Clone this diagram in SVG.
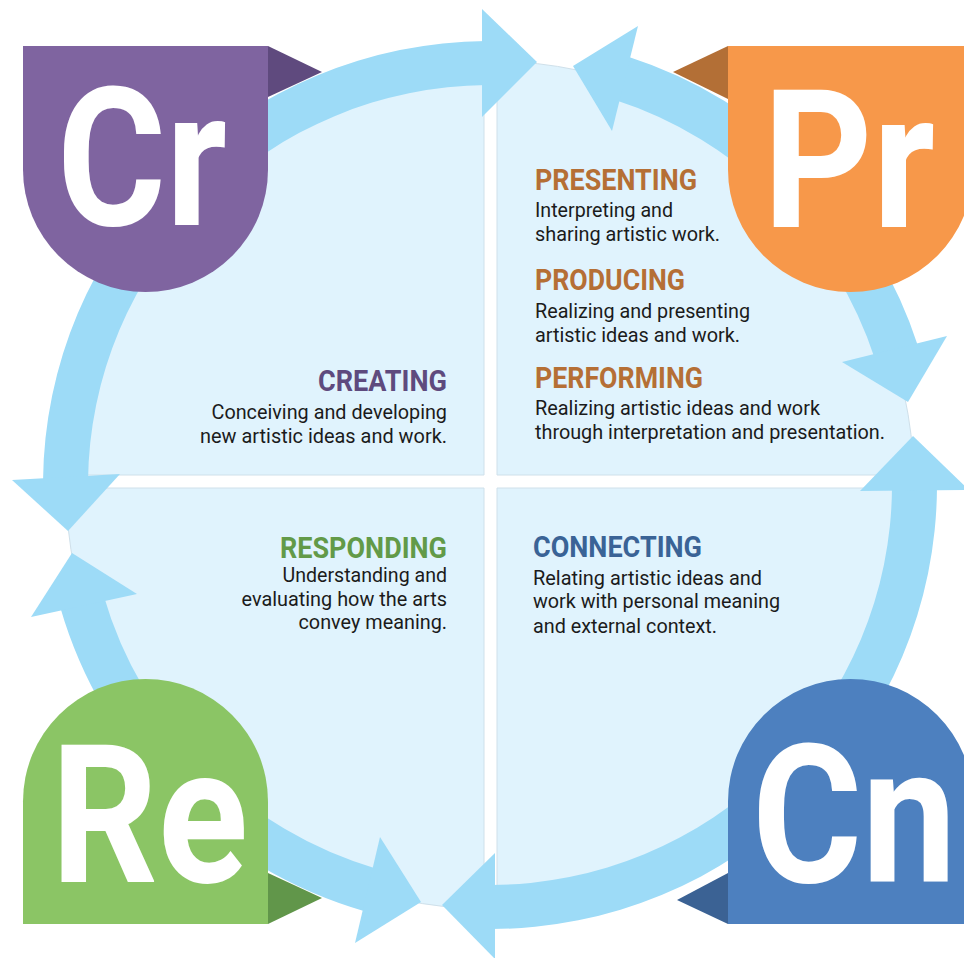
<svg xmlns="http://www.w3.org/2000/svg" width="964" height="958" viewBox="0 0 964 958">
<style>
.quad{fill:#e0f3fd;stroke:#cfe0ea;stroke-width:1}
.ring{fill:#9ddbf7}
.big{font-family:Roboto,"Liberation Sans",sans-serif;font-weight:700;font-size:193px;fill:#ffffff}
.h{font-family:Roboto,"Liberation Sans",sans-serif;font-weight:700;font-size:29.5px}
.b{font-family:Roboto,"Liberation Sans",sans-serif;font-weight:400;font-size:21px;fill:#1b1b1b}
</style>
<rect width="964" height="958" fill="#ffffff"/>
<g id="quadrants">
<path class="quad" d="M484,475 L66.12,475 A424,424 0 0 1 484,61.04 Z"/>
<path class="quad" d="M497,475 L497,61.06 A424,424 0 0 1 913.88,475 Z"/>
<path class="quad" d="M484,488 L484,908.96 A424,424 0 0 1 66.01,488 Z"/>
<path class="quad" d="M497,488 L913.99,488 A424,424 0 0 1 497,908.94 Z"/>
</g>
<g id="connectors">
<path class="ring" d="M43.02,481.12 A447,444 0 0 1 486.10,41.02 L486.49,85.02 A402,400 0 0 0 88.02,481.51 Z"/>
<path class="ring" d="M627.57,56.55 A450,450 0 0 1 917.98,345.94 L875.18,359.85 A405,405 0 0 0 613.81,99.39 Z"/>
<path class="ring" d="M936.99,487.33 A447,444 0 0 1 491.56,928.99 L491.40,884.99 A402,400 0 0 0 892.00,487.09 Z"/>
<path class="ring" d="M364.54,911.16 A447,444 0 0 1 60.32,607.38 L103.57,595.26 A402,400 0 0 0 377.17,868.92 Z"/>
<polygon class="ring" points="482,9 537,62 482,117"/>
<polygon class="ring" points="638,26 573,66 612,131"/>
<polygon class="ring" points="947,336 908,402 842,362"/>
<polygon class="ring" points="860,491 913,436 969,490"/>
<polygon class="ring" points="495,853 442,905 495,959"/>
<polygon class="ring" points="380,837 421,902 355,943"/>
<polygon class="ring" points="137,594 72,553 31,617"/>
<polygon class="ring" points="12,480 68,531 120,474"/>
</g>
<g id="node-creating">
<polygon points="268,46 322,72 268,97" fill="#5f4a7e"/>
<path d="M23,46 H268 V169.5 A122.5,122.5 0 0 1 23,169.5 Z" fill="#7f64a0"/>
<text class="big" x="57" y="225" textLength="170" lengthAdjust="spacingAndGlyphs">Cr</text>
<text class="h" x="318" y="391" fill="#5e4a7e" textLength="129" lengthAdjust="spacingAndGlyphs">CREATING</text>
<text class="b" x="211.5" y="419" textLength="235.5" lengthAdjust="spacingAndGlyphs">Conceiving and developing</text>
<text class="b" x="200" y="442.5" textLength="247" lengthAdjust="spacingAndGlyphs">new artistic ideas and work.</text>
</g>
<g id="node-presenting">
<polygon points="728,46 673,72 728,99" fill="#b36f36"/>
<path d="M728,46 H973 V169.5 A122.5,122.5 0 0 1 728,169.5 Z" fill="#f7984a"/>
<text class="big" x="935" y="227" text-anchor="end" textLength="172" lengthAdjust="spacingAndGlyphs">Pr</text>
<text class="h" x="535" y="190" fill="#b56f35" textLength="162" lengthAdjust="spacingAndGlyphs">PRESENTING</text>
<text class="b" x="535" y="217" textLength="138" lengthAdjust="spacingAndGlyphs">Interpreting and</text>
<text class="b" x="535" y="241" textLength="185" lengthAdjust="spacingAndGlyphs">sharing artistic work.</text>
<text class="h" x="535" y="290" fill="#b56f35" textLength="150" lengthAdjust="spacingAndGlyphs">PRODUCING</text>
<text class="b" x="535" y="318" textLength="215" lengthAdjust="spacingAndGlyphs">Realizing and presenting</text>
<text class="b" x="535" y="342" textLength="205" lengthAdjust="spacingAndGlyphs">artistic ideas and work.</text>
<text class="h" x="535" y="388" fill="#b56f35" textLength="168" lengthAdjust="spacingAndGlyphs">PERFORMING</text>
<text class="b" x="535" y="415" textLength="285" lengthAdjust="spacingAndGlyphs">Realizing artistic ideas and work</text>
<text class="b" x="535" y="438.5" textLength="350" lengthAdjust="spacingAndGlyphs">through interpretation and presentation.</text>
</g>
<g id="node-responding">
<polygon points="268,873 322,898 268,924" fill="#61964a"/>
<path d="M23,924 V801.5 A122.5,122.5 0 0 1 268,801.5 V924 Z" fill="#8bc565"/>
<text class="big" x="51" y="882" textLength="197" lengthAdjust="spacingAndGlyphs">Re</text>
<text class="h" x="280" y="557.7" fill="#629a48" textLength="167" lengthAdjust="spacingAndGlyphs">RESPONDING</text>
<text class="b" x="282.5" y="581.7" textLength="164.5" lengthAdjust="spacingAndGlyphs">Understanding and</text>
<text class="b" x="241.5" y="605.7" textLength="205.5" lengthAdjust="spacingAndGlyphs">evaluating how the arts</text>
<text class="b" x="298.5" y="629.3" textLength="148.5" lengthAdjust="spacingAndGlyphs">convey meaning.</text>
</g>
<g id="node-connecting">
<polygon points="728,873 677,900 728,924" fill="#3b6294"/>
<path d="M728,924 V801.5 A122.5,122.5 0 0 1 973,801.5 V924 Z" fill="#4d80bf"/>
<text class="big" transform="translate(752,882) scale(0.872,1)" x="0" y="0">Cn</text>
<text class="h" x="533" y="557.3" fill="#3a6396" textLength="169" lengthAdjust="spacingAndGlyphs">CONNECTING</text>
<text class="b" x="533" y="585" textLength="229" lengthAdjust="spacingAndGlyphs">Relating artistic ideas and</text>
<text class="b" x="533" y="608.3" textLength="247" lengthAdjust="spacingAndGlyphs">work with personal meaning</text>
<text class="b" x="533" y="632.7" textLength="184" lengthAdjust="spacingAndGlyphs">and external context.</text>
</g>
</svg>
